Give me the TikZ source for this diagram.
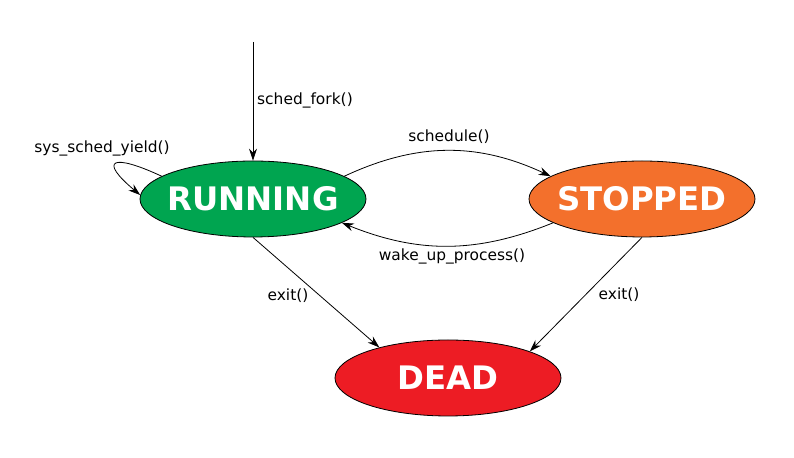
\documentclass[tikz,border=0pt]{standalone}
\usepackage{fontspec}
\setmainfont{DejaVu Sans}
\usetikzlibrary{shapes.geometric,arrows.meta}

\definecolor{runcol}{RGB}{0,165,80}
\definecolor{stopcol}{RGB}{243,112,44}
\definecolor{deadcol}{RGB}{237,28,36}

\begin{document}
\begin{tikzpicture}[x=1bp,y=1bp,
    font=\fontsize{15.5}{18}\selectfont,
    state/.style={ellipse,draw,line width=0.8bp,inner sep=0pt,
        minimum width=226bp,minimum height=76bp,text=white,
        font=\fontsize{32.5}{38}\selectfont\bfseries},
    trans/.style={line width=0.8bp,-{Stealth[length=12bp,width=8bp,inset=4bp]}},
    lbl/.style={inner sep=0pt}]
    \useasboundingbox (0,0) rectangle (794,458);

    % States
    \node[state,fill=runcol] (run) at (253,259) {\makebox[0pt]{RUNNING}};
    \node[state,fill=stopcol] (stop) at (642,259) {\makebox[0pt]{STOPPED}};
    \node[state,fill=deadcol] (dead) at (448,80) {\makebox[0pt]{DEAD}};

    % Entry
    \coordinate (start) at (253,416);
    \draw[trans] (start) -- (run.north);
    \node[lbl,anchor=west] (forklbl) at (257,358) {sched\_fork()};

    % Between RUNNING and STOPPED
    \draw[trans] (run.14) to[bend left=25] (stop.166);
    \node[lbl] (schedlbl) at (449,321) {schedule()};
    \draw[trans] (stop.195) to[bend left=22] (run.345);
    \node[lbl] (wakelbl) at (452,202) {wake\_up\_process()};

    % Self loop
    \draw[trans] (run.166) .. controls +(155:55) and +(140:55) .. (run.178);
    \node[lbl] (yieldlbl) at (102,310) {sys\_sched\_yield()};

    % To DEAD
    \draw[trans] (run.south) -- (dead.156);
    \node[lbl] (exitlbl1) at (288,162) {exit()};
    \draw[trans] (stop.south) -- (dead.18);
    \node[lbl] (exitlbl2) at (619,163) {exit()};
\end{tikzpicture}
\end{document}
